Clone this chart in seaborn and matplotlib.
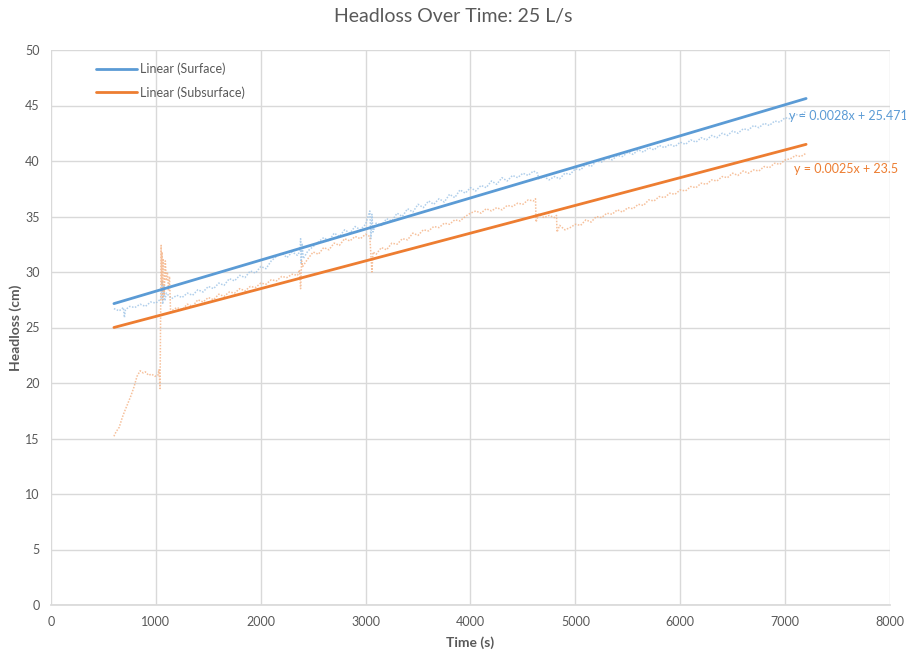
import matplotlib
matplotlib.use("Agg")
import matplotlib.pyplot as plt
import seaborn as sns
import numpy as np
import pandas as pd

# Measured headloss, surface tap
surface_time = [600, 650, 690, 700, 710, 750, 800, 850, 900, 950, 1000, 1050, 1060, 1065, 1075, 1085,
                1100, 1150, 1200, 1250, 1300, 1350, 1400, 1450, 1500, 1550, 1600, 1650, 1700, 1750,
                1800, 1850, 1900, 1950, 2000, 2050, 2100, 2150, 2200, 2250, 2300, 2350, 2375, 2380,
                2385, 2395, 2405, 2450, 2500, 2550, 2600, 2650, 2700, 2750, 2800, 2850, 2900, 2950,
                3000, 3040, 3050, 3060, 3070, 3100, 3150, 3200, 3250, 3300, 3350, 3400, 3450, 3500,
                3550, 3600, 3650, 3700, 3750, 3800, 3850, 3900, 3950, 4000, 4050, 4100, 4150, 4200,
                4250, 4300, 4350, 4400, 4450, 4500, 4550, 4600, 4640, 4650, 4700, 4750, 4800, 4850,
                4900, 4950, 5000, 5050, 5100, 5150, 5200, 5250, 5300, 5350, 5400, 5450, 5500, 5550,
                5600, 5650, 5700, 5750, 5800, 5850, 5900, 5950, 6000, 6050, 6100, 6150, 6200, 6250,
                6300, 6350, 6400, 6450, 6500, 6550, 6600, 6650, 6700, 6750, 6800, 6850, 6900, 6950,
                7000, 7050, 7100, 7150, 7200]
surface_head = [26.7, 26.5, 26.8, 25.9, 26.6, 26.9, 26.8, 27.1, 26.9, 27.3, 27.2, 27.6, 29.2, 27.1, 28.8, 27.4,
                28.1, 27.6, 27.9, 27.7, 28.1, 27.9, 28.4, 28.2, 28.7, 28.5, 29.0, 28.8, 29.4, 29.2,
                29.7, 29.5, 30.1, 29.9, 30.5, 30.3, 31.0, 31.4, 31.7, 31.3, 31.8, 31.5, 31.9, 33.0,
                30.8, 32.6, 31.2, 31.9, 32.3, 32.7, 33.1, 32.8, 33.5, 33.2, 33.8, 33.5, 34.1, 33.8,
                34.3, 35.5, 33.0, 35.2, 33.6, 34.4, 34.2, 34.8, 34.6, 35.3, 35.0, 35.7, 35.4, 36.1,
                35.8, 36.4, 36.1, 36.6, 36.3, 37.0, 36.7, 37.4, 37.1, 37.6, 37.3, 37.8, 37.6, 38.2,
                37.9, 38.5, 38.2, 38.7, 38.5, 38.9, 38.7, 39.1, 38.9, 38.4, 38.6, 38.3, 38.6, 38.4,
                38.9, 38.8, 39.3, 39.2, 39.7, 39.5, 40.0, 39.9, 40.3, 40.1, 40.5, 40.4, 40.8, 40.6,
                41.0, 40.8, 41.2, 41.0, 41.4, 41.2, 41.5, 41.3, 41.7, 41.5, 41.9, 41.7, 42.1, 41.9,
                42.3, 42.1, 42.5, 42.3, 42.7, 42.5, 42.9, 42.8, 43.2, 43.0, 43.4, 43.2, 43.6, 43.5,
                43.9, 43.8, 44.2, 44.1, 44.5]

# Measured headloss, subsurface tap
subsurface_time = [600, 620, 650, 680, 700, 730, 760, 790, 820, 850, 880, 900, 930, 960, 990, 1020, 1030,
                   1040, 1050, 1055, 1060, 1065, 1070, 1080, 1090, 1100, 1110, 1120, 1130, 1140, 1150,
                   1200, 1250, 1300, 1350, 1400, 1450, 1500, 1550, 1600, 1650, 1700, 1750, 1800, 1850,
                   1900, 1950, 2000, 2050, 2100, 2150, 2200, 2250, 2300, 2350, 2370, 2380, 2390, 2400,
                   2450, 2500, 2550, 2600, 2650, 2700, 2750, 2800, 2850, 2900, 2950, 3000, 3040, 3060,
                   3070, 3100, 3150, 3200, 3250, 3300, 3350, 3400, 3450, 3500, 3550, 3600, 3650, 3700,
                   3750, 3800, 3850, 3900, 3950, 4000, 4050, 4100, 4150, 4200, 4250, 4300, 4350, 4400,
                   4450, 4500, 4550, 4600, 4620, 4625, 4650, 4700, 4750, 4800, 4820, 4825, 4850, 4900,
                   4950, 5000, 5050, 5100, 5150, 5200, 5250, 5300, 5350, 5400, 5450, 5500, 5550, 5600,
                   5650, 5700, 5750, 5800, 5850, 5900, 5950, 6000, 6050, 6100, 6150, 6200, 6250, 6300,
                   6350, 6400, 6450, 6500, 6550, 6600, 6650, 6700, 6750, 6800, 6850, 6900, 6950, 7000,
                   7050, 7100, 7150, 7200]
subsurface_head = [15.2, 15.6, 16.0, 16.9, 17.4, 18.1, 18.8, 19.6, 20.6, 21.1, 20.9, 21.0, 20.7, 20.8, 20.6, 20.7, 21.2,
                   19.5, 32.4, 29.0, 31.8, 27.5, 31.2, 28.0, 31.0, 29.2, 30.0, 28.3, 29.6, 26.4, 26.5,
                   26.8, 26.6, 27.1, 26.9, 27.5, 27.3, 27.7, 27.5, 28.0, 27.8, 28.2, 28.1, 28.5, 28.3,
                   28.7, 28.6, 29.0, 28.9, 29.3, 29.2, 29.6, 29.5, 29.8, 29.7, 30.2, 28.5, 31.0, 30.5,
                   31.2, 31.8, 31.6, 32.2, 32.0, 32.6, 32.4, 33.0, 32.8, 33.2, 33.0, 33.4, 33.2, 30.0,
                   31.8, 31.6, 32.2, 32.0, 32.6, 32.5, 33.0, 32.9, 33.5, 33.3, 33.8, 33.7, 34.1, 34.0,
                   34.4, 34.3, 34.7, 34.6, 35.0, 35.3, 35.5, 35.3, 35.7, 35.5, 35.8, 35.6, 36.0, 35.9,
                   36.2, 36.1, 36.5, 36.4, 36.6, 34.5, 35.2, 34.9, 35.1, 34.9, 35.1, 33.6, 34.2, 33.8,
                   34.0, 34.3, 34.2, 34.7, 34.5, 35.0, 34.9, 35.3, 35.2, 35.6, 35.4, 35.8, 35.7, 36.1,
                   36.0, 36.5, 36.4, 36.8, 36.7, 37.1, 37.0, 37.4, 37.3, 37.7, 37.6, 38.0, 37.9, 38.3,
                   38.2, 38.6, 38.5, 38.9, 38.7, 39.1, 38.9, 39.2, 39.1, 39.5, 39.4, 39.8, 39.7, 40.1,
                   40.2, 40.5, 40.4, 40.7]

# Linear trendlines (slope, intercept) over the test window
trend_range = [600, 7200]
surface_fit = (0.0028, 25.471)
subsurface_fit = (0.0025, 23.5)
surface_eq = "y = 0.0028x + 25.471"
subsurface_eq = "y = 0.0025x + 23.5"

x_ticks = list(range(0, 8001, 1000))
y_ticks = list(range(0, 51, 5))

BLUE = "#5B9BD5"
ORANGE = "#ED7D31"
PALE_BLUE = "#9DC3E6"
PALE_ORANGE = "#F4B183"
GREY = "#595959"

sns.set_theme(style="white")
plt.rcParams["font.family"] = ["Lato", "DejaVu Sans"]

fig = plt.figure(figsize=(9.06, 6.56), dpi=100)
ax = fig.add_axes([51 / 906, 1 - 605 / 656, (890 - 51) / 906, (605 - 50) / 656])

surf_df = pd.DataFrame({"t": surface_time, "h": surface_head})
sub_df = pd.DataFrame({"t": subsurface_time, "h": subsurface_head})

sns.lineplot(data=surf_df, x="t", y="h", ax=ax, sort=False, estimator=None,
             color=PALE_BLUE, lw=1.1, linestyle=(0, (1, 1)), alpha=0.8, zorder=2)
sns.lineplot(data=sub_df, x="t", y="h", ax=ax, sort=False, estimator=None,
             color=PALE_ORANGE, lw=1.1, linestyle=(0, (1, 1)), alpha=0.8, zorder=2)

tr = np.array(trend_range, dtype=float)
fit_df = pd.DataFrame({
    "t": np.concatenate([tr, tr]),
    "h": np.concatenate([surface_fit[0] * tr + surface_fit[1],
                         subsurface_fit[0] * tr + subsurface_fit[1]]),
    "series": ["Linear (Surface)"] * 2 + ["Linear (Subsurface)"] * 2,
})
sns.lineplot(data=fit_df, x="t", y="h", hue="series", ax=ax,
             palette={"Linear (Surface)": BLUE, "Linear (Subsurface)": ORANGE},
             lw=2.0, zorder=3)

ax.set_xlim(0, 8000)
ax.set_ylim(0, 50)
ax.set_xticks(x_ticks)
ax.set_yticks(y_ticks)
ax.grid(True, color="#D9D9D9", lw=1.0)
ax.set_axisbelow(True)
for side in ["top", "right", "left"]:
    ax.spines[side].set_visible(False)
ax.spines["bottom"].set_color("#D9D9D9")
ax.tick_params(axis="both", length=0, labelsize=9, colors=GREY, pad=8)

ax.set_xlabel("Time (s)", fontsize=10, fontweight="bold", color=GREY, labelpad=6)
ax.set_ylabel("Headloss (cm)", fontsize=10, fontweight="bold", color=GREY, labelpad=2)

fig.suptitle("Headloss Over Time: 25 L/s", x=0.5, y=1 - 8 / 656, va="top",
             fontsize=14, color=GREY)

leg = ax.legend(loc="upper left", bbox_to_anchor=(0.04, 0.997), frameon=False,
                fontsize=9, handlelength=3.3, handletextpad=0.2, labelspacing=0.85)
for txt in leg.get_texts():
    txt.set_color(GREY)

ax.text(7037, 44.05, surface_eq, color=BLUE, fontsize=9, va="center", ha="left", clip_on=False)
ax.text(7084, 39.3, subsurface_eq, color=ORANGE, fontsize=9, va="center", ha="left", clip_on=False)

fig.savefig("out.png", dpi=100, facecolor="white")
